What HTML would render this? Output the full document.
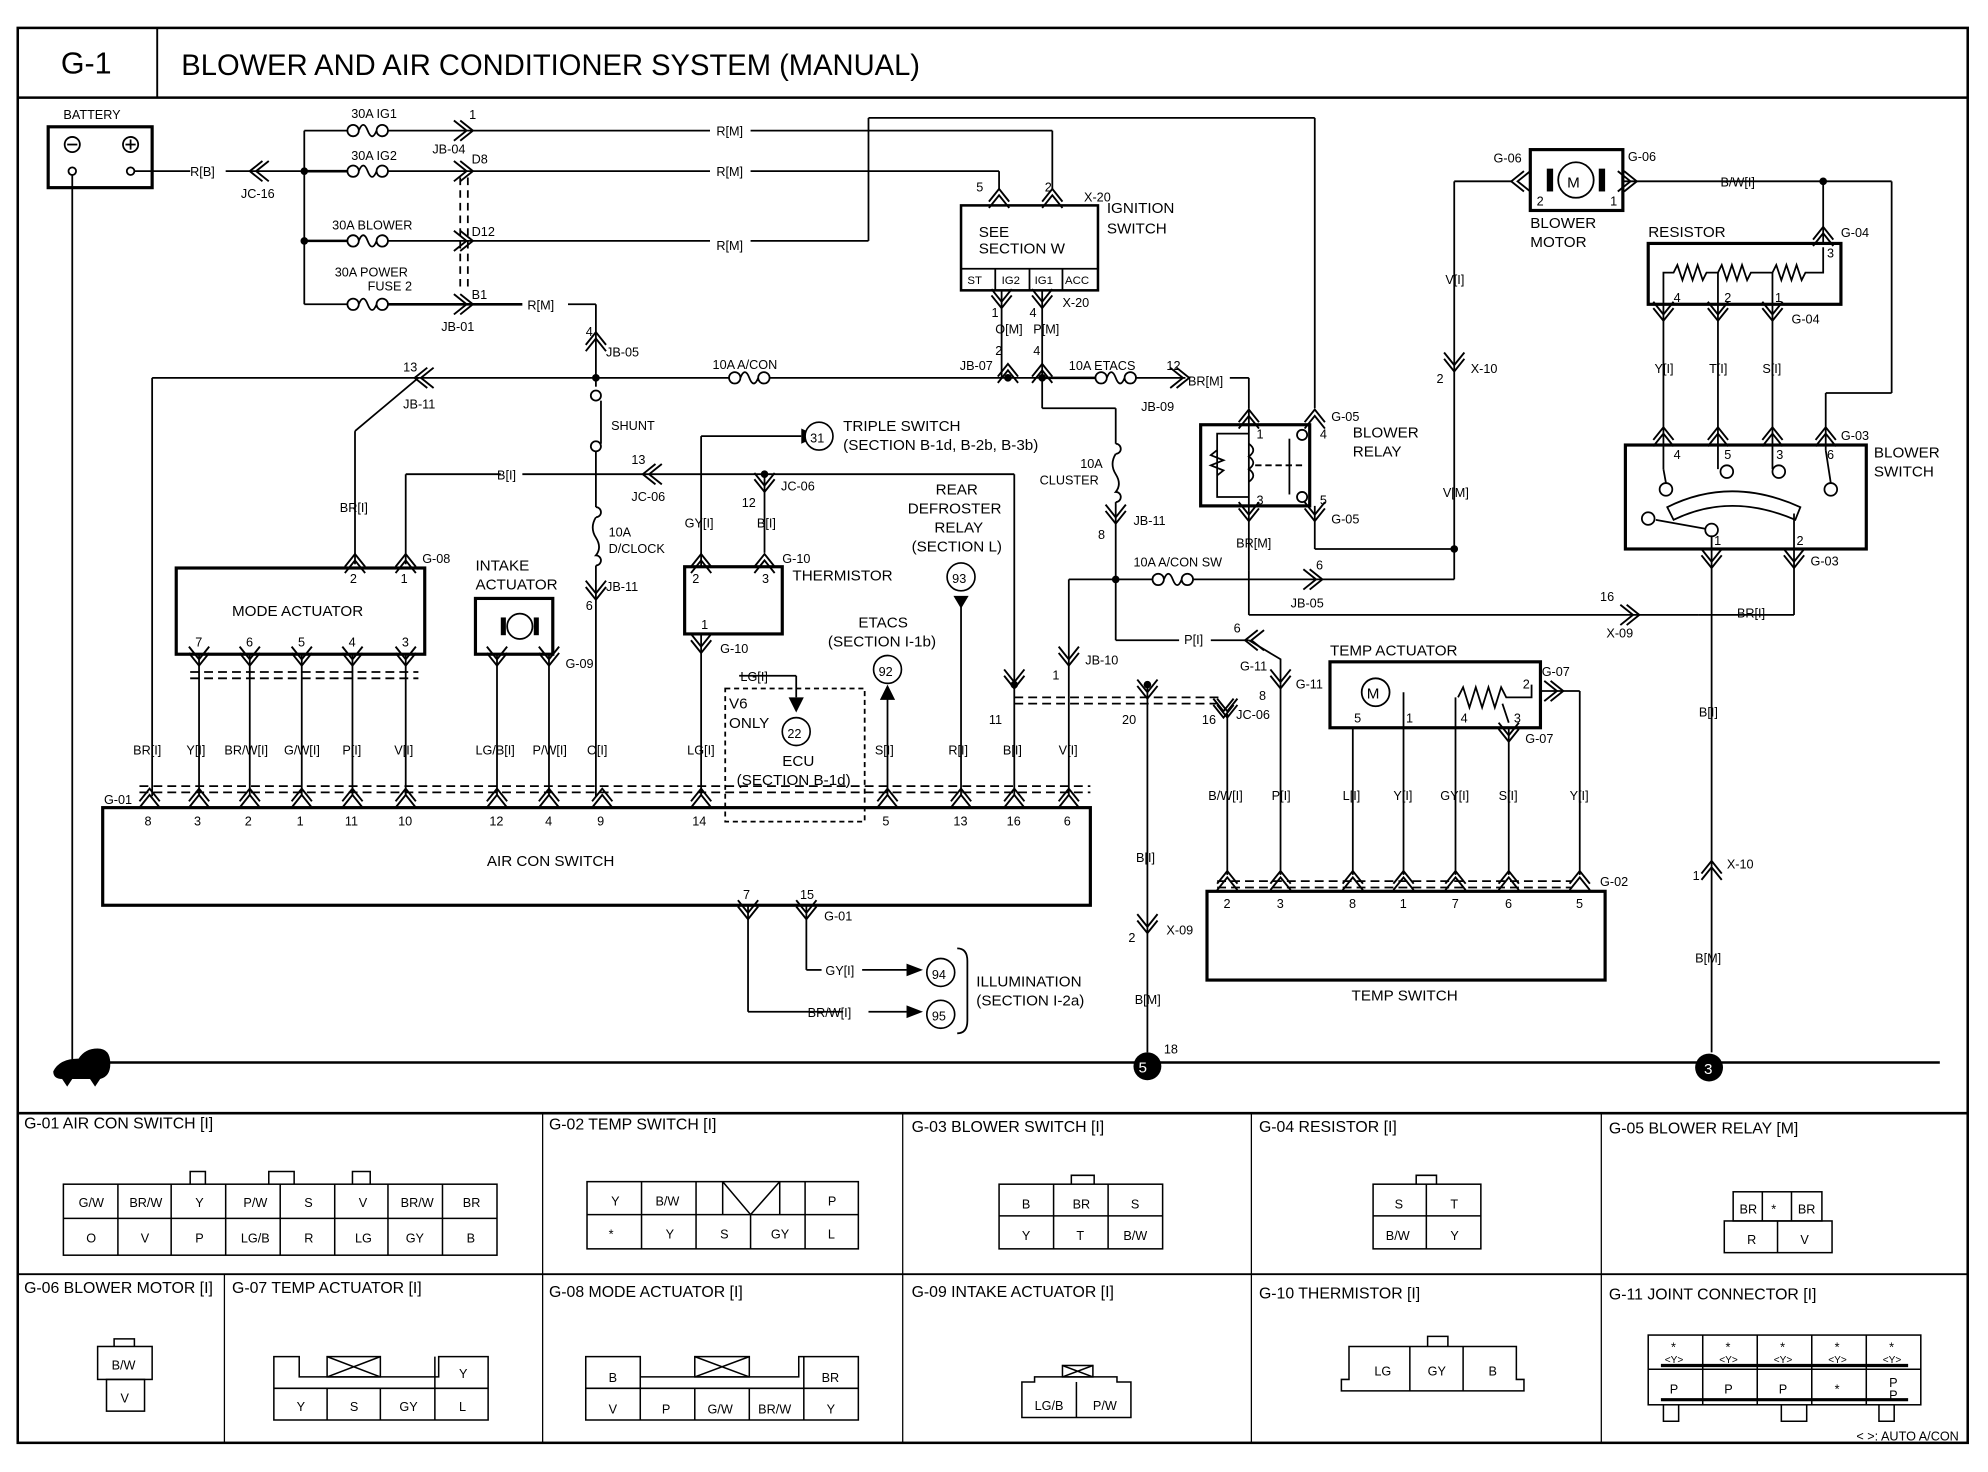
<!DOCTYPE html>
<html><head><meta charset="utf-8"><style>
html,body{margin:0;padding:0;background:#fff}
svg{display:block}
text{font-family:"Liberation Sans",sans-serif;fill:#000}
.s{font-size:10px}
.m{font-size:12px}
.l{font-size:13px}
.t{font-size:12.5px}
.c{font-size:10px}
.n{font-size:7px}
</style></head><body>
<svg width="1988" height="1472" viewBox="0 0 1568 1161" xmlns="http://www.w3.org/2000/svg">
<defs>
<path id="cu" d="M-8,7 L0,-3 L8,7 M-8,12 L0,2 L8,12" fill="none" stroke="#000" stroke-width="1.5"/>
<path id="cd" d="M-8,-7 L0,3 L8,-7 M-8,-12 L0,-2 L8,-12" fill="none" stroke="#000" stroke-width="1.5"/>
<path id="cl" d="M7,-8 L-3,0 L7,8 M12,-8 L2,0 L12,8" fill="none" stroke="#000" stroke-width="1.5"/>
<path id="cr" d="M-7,-8 L3,0 L-7,8 M-12,-8 L-2,0 L-12,8" fill="none" stroke="#000" stroke-width="1.5"/>
<path id="fh" d="M-16,0 a4.5,4.5 0 1 0 9,0 a4.5,4.5 0 1 0 -9,0 M-7,0 q3.5,-9 7,0 q3.5,9 7,0 M7,0 a4.5,4.5 0 1 0 9,0 a4.5,4.5 0 1 0 -9,0" fill="none" stroke="#000" stroke-width="1.4"/>
</defs>
<rect width="1568" height="1161" fill="#fff"/>
<g fill="none" stroke="#000">
<rect x="14" y="22" width="1538" height="1116" stroke-width="2"/>
<line x1="14" y1="77" x2="1552" y2="77" stroke-width="2"/>
<line x1="124" y1="22" x2="124" y2="77" stroke-width="1.5"/>
<line x1="14" y1="878" x2="1552" y2="878" stroke-width="2"/>
<line x1="14" y1="1005" x2="1552" y2="1005" stroke-width="1.5"/>
<line x1="428" y1="878" x2="428" y2="1138"/><line x1="712" y1="878" x2="712" y2="1138"/>
<line x1="987" y1="878" x2="987" y2="1138"/><line x1="1263" y1="878" x2="1263" y2="1138"/>
<line x1="177" y1="1005" x2="177" y2="1138"/>
</g>
<text x="48" y="58" style="font-size:24px">G-1</text>
<text x="143" y="59" style="font-size:23px">BLOWER AND AIR CONDITIONER SYSTEM (MANUAL)</text>

<g fill="none" stroke="#000" stroke-width="1.4">
<rect x="38" y="100" width="82" height="48" stroke-width="2.5"/>
<circle cx="57" cy="114" r="6"/><line x1="53" y1="114" x2="61" y2="114"/>
<circle cx="103" cy="114" r="6"/><line x1="99" y1="114" x2="107" y2="114"/><line x1="103" y1="110" x2="103" y2="118"/>
<circle cx="57" cy="135" r="3"/><circle cx="103" cy="135" r="3"/>
<line x1="57" y1="138" x2="57" y2="838"/>
<line x1="106" y1="135" x2="150" y2="135"/><line x1="178" y1="135" x2="240" y2="135"/>
<line x1="56" y1="838" x2="1530" y2="838" stroke-width="2"/>
<line x1="240" y1="103" x2="240" y2="240"/>
<line x1="240" y1="103" x2="274" y2="103"/><line x1="240" y1="135" x2="274" y2="135" stroke-width="2"/>
<line x1="240" y1="190" x2="274" y2="190" stroke-width="2"/><line x1="240" y1="240" x2="274" y2="240"/>
<line x1="306" y1="103" x2="560" y2="103"/><line x1="592" y1="103" x2="830" y2="103"/><line x1="830" y1="103" x2="830" y2="150"/>
<line x1="306" y1="135" x2="560" y2="135"/><line x1="592" y1="135" x2="788" y2="135"/><line x1="788" y1="135" x2="788" y2="150"/>
<line x1="306" y1="190" x2="560" y2="190"/><line x1="592" y1="190" x2="685" y2="190"/>
<line x1="685" y1="190" x2="685" y2="93"/><line x1="685" y1="93" x2="1037" y2="93"/><line x1="1037" y1="93" x2="1037" y2="322"/>
<line x1="306" y1="240" x2="412" y2="240" stroke-width="2"/><line x1="448" y1="240" x2="470" y2="240"/>
<line x1="470" y1="240" x2="470" y2="305"/>
<path d="M363,140 V228 M369,140 V228" stroke-dasharray="6,4"/>
<circle cx="470" cy="312" r="4"/><circle cx="470" cy="352" r="4"/><line x1="474" y1="316" x2="474" y2="350"/>
<line x1="470" y1="356" x2="470" y2="400"/>
<path d="M470,400 a4,4 0 1 1 0,8 M470,408 q-5,8 0,16 q5,8 0,14 a4,4 0 1 1 0,8"/>
<line x1="470" y1="446" x2="470" y2="628"/>
<line x1="120" y1="298" x2="575" y2="298"/><line x1="607" y1="298" x2="822" y2="298"/>
<line x1="120" y1="298" x2="120" y2="628"/>
<line x1="330" y1="298" x2="280" y2="340"/><line x1="280" y1="340" x2="280" y2="445"/>
<line x1="320" y1="445" x2="320" y2="374"/><line x1="320" y1="374" x2="395" y2="374"/><line x1="412" y1="374" x2="800" y2="374"/>
<line x1="800" y1="374" x2="800" y2="628"/>
<line x1="603" y1="374" x2="603" y2="436"/>
<rect x="758" y="162" width="108" height="67" stroke-width="2"/>
<line x1="758" y1="212" x2="866" y2="212"/>
<line x1="785" y1="212" x2="785" y2="229"/><line x1="812" y1="212" x2="812" y2="229"/><line x1="838" y1="212" x2="838" y2="229"/>
<line x1="790" y1="229" x2="790" y2="298"/><line x1="822" y1="229" x2="822" y2="322"/>
<line x1="822" y1="298" x2="864" y2="298" stroke-width="2"/><line x1="896" y1="298" x2="935" y2="298"/><line x1="970" y1="298" x2="985" y2="298"/><line x1="985" y1="298" x2="985" y2="322"/>
<line x1="822" y1="322" x2="880" y2="322"/><line x1="880" y1="322" x2="880" y2="350"/>
<path d="M880,350 a4,4 0 1 1 0,8 M880,358 q-5,8 0,16 q5,8 0,14 a4,4 0 1 1 0,8"/>
<line x1="880" y1="396" x2="880" y2="505"/><line x1="880" y1="505" x2="930" y2="505"/><line x1="955" y1="505" x2="985" y2="505"/>
<line x1="1010" y1="540" x2="1010" y2="690"/><path d="M985,505 L1010,520 V540"/>
<rect x="947" y="335" width="86" height="64" stroke-width="2.5"/>
<line x1="985" y1="322" x2="985" y2="450"/><line x1="985" y1="485" x2="1340" y2="485"/><line x1="985" y1="450" x2="985" y2="485"/>
<path d="M985,342 H960 V392 H985 M960,355 l-5,4 l10,4 l-10,4 l10,4 l-5,4 M985,350 q7,5 0,10 q7,5 0,10 q7,5 0,10"/>
<line x1="990" y1="367" x2="1028" y2="367" stroke-dasharray="5,3"/>
<circle cx="1027" cy="343" r="4"/><circle cx="1027" cy="392" r="4"/><line x1="1017" y1="346" x2="1017" y2="390"/>
<line x1="1037" y1="399" x2="1037" y2="433"/><line x1="1037" y1="433" x2="1147" y2="433"/>
<line x1="843" y1="628" x2="843" y2="457"/><line x1="843" y1="457" x2="909" y2="457"/><line x1="941" y1="457" x2="1147" y2="457"/><line x1="1147" y1="457" x2="1147" y2="143"/>
<line x1="1147" y1="143" x2="1192" y2="143"/><line x1="1280" y1="143" x2="1438" y2="143"/><line x1="1438" y1="143" x2="1492" y2="143"/>
<line x1="1492" y1="143" x2="1492" y2="310"/><line x1="1492" y1="310" x2="1440" y2="310"/><line x1="1440" y1="310" x2="1440" y2="355"/>
<line x1="1438" y1="143" x2="1438" y2="192"/>
<rect x="1207" y="118" width="73" height="48" stroke-width="2.5"/>
<circle cx="1243" cy="142" r="14"/>
<rect x="1300" y="192" width="152" height="48" stroke-width="2.5"/>
<path d="M1312,240 V215 H1320 l3,-6 l4,12 l4,-12 l4,12 l4,-12 l4,12 l3,-6 H1355 l3,-6 l4,12 l4,-12 l4,12 l4,-12 l4,12 l3,-6 H1398 l3,-6 l4,12 l4,-12 l4,12 l4,-12 l4,12 l3,-6 H1438 V195"/>
<line x1="1312" y1="240" x2="1312" y2="370"/><line x1="1355" y1="215" x2="1355" y2="370"/><line x1="1398" y1="215" x2="1398" y2="370"/>
<rect x="1282" y="351" width="190" height="82" stroke-width="2.5"/>
<circle cx="1314" cy="386" r="5"/><circle cx="1362" cy="372" r="5"/><circle cx="1403" cy="372" r="5"/><circle cx="1444" cy="386" r="5"/>
<line x1="1312" y1="370" x2="1314" y2="381"/><line x1="1440" y1="355" x2="1444" y2="381"/>
<path d="M1315,400 Q1365,375 1420,400 L1416,410 Q1365,388 1320,410 Z"/>
<circle cx="1300" cy="409" r="5"/><circle cx="1350" cy="418" r="5"/><line x1="1306" y1="410" x2="1345" y2="417"/>
<line x1="1350" y1="423" x2="1350" y2="830"/><line x1="1415" y1="405" x2="1415" y2="485"/><line x1="1340" y1="485" x2="1415" y2="485"/>
<rect x="139" y="448" width="196" height="68" stroke-width="2.5"/>
<line x1="157" y1="516" x2="157" y2="628"/><line x1="197" y1="516" x2="197" y2="628"/><line x1="238" y1="516" x2="238" y2="628"/><line x1="278" y1="516" x2="278" y2="628"/><line x1="320" y1="516" x2="320" y2="628"/>
<path d="M150,530 H330 M150,535 H330" stroke-dasharray="7,4"/>
<rect x="375" y="472" width="61" height="44" stroke-width="2.5"/>
<circle cx="410" cy="494" r="10"/>
<line x1="392" y1="516" x2="392" y2="628"/><line x1="433" y1="516" x2="433" y2="628"/>
<rect x="540" y="447" width="77" height="53" stroke-width="2.5"/>
<line x1="553" y1="447" x2="553" y2="344"/><line x1="553" y1="344" x2="632" y2="344"/>
<line x1="553" y1="500" x2="553" y2="628"/>
<line x1="583" y1="533" x2="628" y2="533"/><line x1="628" y1="533" x2="628" y2="550"/>
<rect x="572" y="543" width="110" height="105" stroke-dasharray="4,3"/>
<line x1="700" y1="545" x2="700" y2="628"/>
<line x1="758" y1="475" x2="758" y2="628"/>
<path d="M110,620 H860 M110,625 H860" stroke-dasharray="7,4"/>
<path d="M800,550 H965 M800,555 H965" stroke-dasharray="7,4"/>
<line x1="905" y1="540" x2="905" y2="830"/>
<line x1="968" y1="563" x2="968" y2="690"/>
<rect x="81" y="637" width="779" height="77" stroke-width="2.5"/>
<line x1="590" y1="714" x2="590" y2="798"/><line x1="590" y1="798" x2="665" y2="798"/><line x1="685" y1="798" x2="715" y2="798"/>
<line x1="636" y1="714" x2="636" y2="765"/><line x1="636" y1="765" x2="648" y2="765"/><line x1="680" y1="765" x2="715" y2="765"/>
<path d="M755,748 q8,0 8,10 V805 q0,10 -8,10"/>
<rect x="1049" y="522" width="166" height="52" stroke-width="2.5"/>
<circle cx="1085" cy="546" r="11"/>
<path d="M1150,550 l4,-8 l5,16 l5,-16 l5,16 l5,-16 l5,16 l5,-16 l4,8 H1208 V540"/>
<line x1="1190" y1="570" x2="1185" y2="555"/>
<line x1="1067" y1="574" x2="1067" y2="690"/><line x1="1107" y1="546" x2="1107" y2="690"/><line x1="1148" y1="550" x2="1148" y2="690"/><line x1="1190" y1="574" x2="1190" y2="690"/>
<line x1="1215" y1="545" x2="1246" y2="545"/><line x1="1246" y1="545" x2="1246" y2="690"/>
<rect x="952" y="703" width="314" height="70" stroke-width="2.5"/>
<path d="M960,695 H1240 M960,700 H1240" stroke-dasharray="7,4"/>
</g>
<g fill="#000">
<circle cx="240" cy="135" r="3"/><circle cx="240" cy="190" r="3"/><circle cx="470" cy="298" r="3"/><circle cx="603" cy="374" r="3"/>
<circle cx="795" cy="298" r="3"/><circle cx="822" cy="298" r="3"/><circle cx="1147" cy="433" r="3"/><circle cx="1438" cy="143" r="3"/>
<circle cx="880" cy="457" r="3"/><circle cx="905" cy="540" r="3"/><circle cx="800" cy="540" r="3"/>
<circle cx="905" cy="841" r="11"/><circle cx="1348" cy="842" r="11"/>
<path d="M42,845 q5,-10 20,-10 q5,-8 15,-8 q10,0 10,12 q0,10 -8,12 l-4,6 l-4,-6 h-14 l-4,6 l-4,-6 q-7,0 -7,-6z"/>
<path d="M632,338 L645,344 L632,350Z"/><path d="M715,760 L728,765 L715,770Z"/><path d="M715,793 L728,798 L715,803Z"/>
<path d="M622,550 L628,562 L634,550Z"/><path d="M694,552 L700,540 L706,552Z"/><path d="M752,470 L758,480 L764,470Z"/>
<rect x="1220" y="133" width="5" height="18"/><rect x="1261" y="133" width="5" height="18"/>
<rect x="395" y="487" width="4" height="14"/><rect x="421" y="487" width="4" height="14"/>
</g>
<g fill="#fff" stroke="#000" stroke-width="1.3">
<circle cx="646" cy="344" r="11"/><circle cx="742" cy="767" r="11"/><circle cx="742" cy="800" r="11"/>
<circle cx="628" cy="577" r="11"/><circle cx="700" cy="528" r="11"/><circle cx="758" cy="455" r="11"/>
</g>
<g><use href="#fh" x="290" y="103"/><use href="#fh" x="290" y="135"/><use href="#fh" x="290" y="190"/><use href="#fh" x="290" y="240"/>
<use href="#fh" x="591" y="298"/><use href="#fh" x="880" y="298"/><use href="#fh" x="925" y="457"/></g>
<g>
<use href="#cl" x="200" y="135"/>
<use href="#cr" x="370" y="103"/><use href="#cr" x="370" y="135"/><use href="#cr" x="370" y="190"/><use href="#cr" x="370" y="240"/>
<use href="#cu" x="470" y="265"/><use href="#cl" x="330" y="298"/><use href="#cl" x="510" y="374"/>
<use href="#cd" x="470" y="470"/><use href="#cd" x="603" y="385"/>
<use href="#cu" x="280" y="440"/><use href="#cu" x="320" y="440"/>
<use href="#cu" x="553" y="440"/><use href="#cu" x="603" y="440"/><use href="#cd" x="553" y="512"/>
<use href="#cu" x="788" y="152"/><use href="#cu" x="830" y="152"/><use href="#cd" x="790" y="240"/><use href="#cd" x="822" y="240"/>
<use href="#cu" x="795" y="290"/><use href="#cu" x="822" y="290"/><use href="#cr" x="935" y="298"/>
<use href="#cu" x="985" y="326"/><use href="#cu" x="1037" y="326"/><use href="#cd" x="985" y="408"/><use href="#cd" x="1037" y="408"/>
<use href="#cd" x="880" y="410"/><use href="#cr" x="1040" y="457"/><use href="#cl" x="985" y="505"/><use href="#cd" x="1010" y="540"/>
<use href="#cd" x="843" y="522"/><use href="#cd" x="965" y="563"/>
<use href="#cd" x="1147" y="290"/><use href="#cl" x="1195" y="143"/><use href="#cr" x="1288" y="143"/><use href="#cu" x="1438" y="182"/>
<use href="#cd" x="1312" y="250"/><use href="#cd" x="1355" y="250"/><use href="#cd" x="1398" y="250"/>
<use href="#cu" x="1312" y="340"/><use href="#cu" x="1355" y="340"/><use href="#cu" x="1398" y="340"/><use href="#cu" x="1440" y="340"/>
<use href="#cd" x="1350" y="445"/><use href="#cd" x="1415" y="445"/><use href="#cr" x="1290" y="485"/>
<use href="#cd" x="1190" y="582"/><use href="#cr" x="1230" y="545"/>
<use href="#cd" x="392" y="522"/><use href="#cd" x="433" y="522"/>
<use href="#cd" x="157" y="522"/><use href="#cd" x="197" y="522"/><use href="#cd" x="238" y="522"/><use href="#cd" x="278" y="522"/><use href="#cd" x="320" y="522"/>
<use href="#cu" x="118" y="625"/><use href="#cu" x="157" y="625"/><use href="#cu" x="197" y="625"/><use href="#cu" x="238" y="625"/><use href="#cu" x="278" y="625"/><use href="#cu" x="320" y="625"/><use href="#cu" x="392" y="625"/><use href="#cu" x="433" y="625"/><use href="#cu" x="475" y="625"/><use href="#cu" x="553" y="625"/><use href="#cu" x="700" y="625"/><use href="#cu" x="758" y="625"/><use href="#cu" x="800" y="625"/><use href="#cu" x="843" y="625"/>
<use href="#cd" x="800" y="540"/><use href="#cd" x="905" y="548"/><use href="#cd" x="968" y="563"/>
<use href="#cd" x="590" y="722"/><use href="#cd" x="636" y="722"/>
<use href="#cd" x="905" y="733"/><use href="#cu" x="1350" y="682"/>
<use href="#cu" x="968" y="690"/><use href="#cu" x="1010" y="690"/><use href="#cu" x="1067" y="690"/><use href="#cu" x="1107" y="690"/><use href="#cu" x="1148" y="690"/><use href="#cu" x="1190" y="690"/><use href="#cu" x="1246" y="690"/>
</g>
<g class="s">
<text x="50" y="94">BATTERY</text><text x="150" y="139">R[B]</text><text x="190" y="156">JC-16</text>
<text x="277" y="93">30A IG1</text><text x="277" y="126">30A IG2</text><text x="262" y="181">30A BLOWER</text><text x="264" y="218">30A POWER</text><text x="290" y="229">FUSE 2</text>
<text x="370" y="94">1</text><text x="341" y="121">JB-04</text><text x="372" y="129">D8</text><text x="372" y="186">D12</text><text x="372" y="236">B1</text><text x="348" y="261">JB-01</text>
<text x="565" y="107">R[M]</text><text x="565" y="139">R[M]</text><text x="565" y="197">R[M]</text><text x="416" y="244">R[M]</text>
<text x="462" y="265">4</text><text x="478" y="281">JB-05</text><text x="482" y="339">SHUNT</text><text x="480" y="423">10A</text><text x="480" y="436">D/CLOCK</text><text x="478" y="466">JB-11</text><text x="462" y="481">6</text>
<text x="318" y="293">13</text><text x="318" y="322">JB-11</text><text x="562" y="291">10A A/CON</text>
<text x="392" y="378">B[I]</text><text x="498" y="366">13</text><text x="498" y="395">JC-06</text><text x="268" y="404">BR[I]</text>
<text x="772" y="187" class="m">SEE</text><text x="772" y="200" class="m">SECTION W</text>
<text x="763" y="224" style="font-size:9px">ST</text><text x="790" y="224" style="font-size:9px">IG2</text><text x="816" y="224" style="font-size:9px">IG1</text><text x="840" y="224" style="font-size:9px">ACC</text>
<text x="855" y="159">X-20</text><text x="770" y="151">5</text><text x="824" y="151">2</text><text x="873" y="168" class="m">IGNITION</text><text x="873" y="184" class="m">SWITCH</text>
<text x="782" y="250">1</text><text x="812" y="250">4</text><text x="838" y="242">X-20</text><text x="785" y="263">O[M]</text><text x="815" y="263">P[M]</text>
<text x="757" y="292">JB-07</text><text x="785" y="280">2</text><text x="815" y="280">4</text><text x="843" y="292">10A ETACS</text><text x="920" y="292">12</text><text x="900" y="324">JB-09</text><text x="937" y="304">BR[M]</text>
<text x="852" y="369">10A</text><text x="820" y="382">CLUSTER</text><text x="866" y="425">8</text><text x="894" y="414">JB-11</text>
<text x="665" y="340" class="m">TRIPLE SWITCH</text><text x="665" y="355" class="m">(SECTION B-1d, B-2b, B-3b)</text><text x="639" y="349" class="c">31</text>
<text x="616" y="387">JC-06</text><text x="585" y="400">12</text><text x="597" y="416">B[I]</text><text x="540" y="416">GY[I]</text>
<text x="617" y="444">G-10</text><text x="625" y="458" class="m">THERMISTOR</text><text x="546" y="460">2</text><text x="601" y="460">3</text><text x="553" y="496">1</text><text x="568" y="515">G-10</text><text x="584" y="537">LG[I]</text>
<text x="738" y="390" class="m">REAR</text><text x="716" y="405" class="m">DEFROSTER</text><text x="737" y="420" class="m">RELAY</text><text x="719" y="435" class="m">(SECTION L)</text><text x="751" y="460" class="c">93</text>
<text x="677" y="495" class="m">ETACS</text><text x="653" y="510" class="m">(SECTION I-1b)</text><text x="693" y="533" class="c">92</text>
<text x="575" y="559" class="m">V6</text><text x="575" y="574" class="m">ONLY</text><text x="621" y="582" class="c">22</text><text x="617" y="604" class="m">ECU</text><text x="581" y="619" class="m">(SECTION B-1d)</text>
<text x="375" y="450" class="m">INTAKE</text><text x="375" y="465" class="m">ACTUATOR</text><text x="446" y="527">G-09</text>
<text x="183" y="486" class="m">MODE ACTUATOR</text><text x="276" y="460">2</text><text x="316" y="460">1</text><text x="333" y="444">G-08</text>
<text x="154" y="510">7</text><text x="194" y="510">6</text><text x="235" y="510">5</text><text x="275" y="510">4</text><text x="317" y="510">3</text>
<text x="105" y="595">BR[I]</text><text x="147" y="595">Y[I]</text><text x="177" y="595">BR/W[I]</text><text x="224" y="595">G/W[I]</text><text x="270" y="595">P[I]</text><text x="311" y="595">V[I]</text>
<text x="375" y="595">LG/B[I]</text><text x="420" y="595">P/W[I]</text><text x="463" y="595">O[I]</text><text x="542" y="595">LG[I]</text><text x="690" y="595">S[I]</text><text x="748" y="595">R[I]</text><text x="791" y="595">B[I]</text><text x="835" y="595">V[I]</text>
<text x="82" y="634">G-01</text>
<text x="114" y="651">8</text><text x="153" y="651">3</text><text x="193" y="651">2</text><text x="234" y="651">1</text><text x="272" y="651">11</text><text x="314" y="651">10</text><text x="386" y="651">12</text><text x="430" y="651">4</text><text x="471" y="651">9</text><text x="546" y="651">14</text><text x="696" y="651">5</text><text x="752" y="651">13</text><text x="794" y="651">16</text><text x="839" y="651">6</text>
<text x="384" y="683" class="m">AIR CON SWITCH</text>
<text x="586" y="709">7</text><text x="631" y="709">15</text><text x="650" y="726">G-01</text>
<text x="651" y="769">GY[I]</text><text x="637" y="802">BR/W[I]</text><text x="735" y="772" class="c">94</text><text x="735" y="805" class="c">95</text>
<text x="770" y="778" class="m">ILLUMINATION</text><text x="770" y="793" class="m">(SECTION I-2a)</text>
<text x="856" y="524">JB-10</text><text x="830" y="536">1</text><text x="780" y="571">11</text><text x="885" y="571">20</text><text x="948" y="571">16</text><text x="975" y="567">JC-06</text>
<text x="896" y="680">B[I]</text><text x="890" y="743">2</text><text x="920" y="737">X-09</text><text x="895" y="792">B[M]</text><text x="918" y="831">18</text>
<text x="898" y="846" style="fill:#fff;font-size:12px">5</text><text x="1344" y="847" style="fill:#fff;font-size:12px">3</text>
<text x="894" y="447">10A A/CON SW</text><text x="1038" y="449">6</text><text x="1018" y="479">JB-05</text><text x="1138" y="392">V[M]</text><text x="1140" y="224">V[I]</text>
<text x="1133" y="302">2</text><text x="1160" y="294">X-10</text><text x="1262" y="474">16</text><text x="1267" y="503">X-09</text><text x="1370" y="487">BR[I]</text>
<text x="934" y="508">P[I]</text><text x="973" y="499">6</text><text x="978" y="529">G-11</text><text x="993" y="552">8</text><text x="1022" y="543">G-11</text>
<text x="975" y="432">BR[M]</text><text x="1050" y="332">G-05</text><text x="1050" y="413">G-05</text><text x="991" y="346">1</text><text x="1041" y="346">4</text><text x="991" y="398">3</text><text x="1041" y="398">5</text>
<text x="1067" y="345" class="m">BLOWER</text><text x="1067" y="360" class="m">RELAY</text>
<text x="1049" y="517" class="m">TEMP ACTUATOR</text><text x="1216" y="533">G-07</text><text x="1201" y="543">2</text><text x="1068" y="570">5</text><text x="1109" y="570">1</text><text x="1152" y="570">4</text><text x="1194" y="570">3</text><text x="1203" y="586">G-07</text>
<text x="1078" y="551" class="m">M</text>
<text x="953" y="631">B/W[I]</text><text x="1003" y="631">P[I]</text><text x="1059" y="631">L[I]</text><text x="1099" y="631">Y[I]</text><text x="1136" y="631">GY[I]</text><text x="1182" y="631">S[I]</text><text x="1238" y="631">Y[I]</text>
<text x="1262" y="699">G-02</text>
<text x="965" y="716">2</text><text x="1007" y="716">3</text><text x="1064" y="716">8</text><text x="1104" y="716">1</text><text x="1145" y="716">7</text><text x="1187" y="716">6</text><text x="1243" y="716">5</text>
<text x="1066" y="789" class="m">TEMP SWITCH</text>
<text x="1178" y="128">G-06</text><text x="1284" y="127">G-06</text><text x="1212" y="162">2</text><text x="1270" y="162">1</text><text x="1236" y="148" class="m">M</text>
<text x="1207" y="180" class="m">BLOWER</text><text x="1207" y="195" class="m">MOTOR</text><text x="1357" y="147">B/W[I]</text>
<text x="1300" y="187" class="m">RESISTOR</text><text x="1452" y="187">G-04</text><text x="1441" y="203">3</text><text x="1320" y="238">4</text><text x="1360" y="238">2</text><text x="1400" y="238">1</text><text x="1413" y="255">G-04</text>
<text x="1305" y="294">Y[I]</text><text x="1348" y="294">T[I]</text><text x="1390" y="294">S[I]</text><text x="1452" y="347">G-03</text>
<text x="1320" y="362">4</text><text x="1360" y="362">5</text><text x="1401" y="362">3</text><text x="1441" y="362">6</text><text x="1352" y="430">1</text><text x="1417" y="430">2</text><text x="1428" y="446">G-03</text>
<text x="1478" y="361" class="m">BLOWER</text><text x="1478" y="376" class="m">SWITCH</text>
<text x="1340" y="565">B[I]</text><text x="1335" y="694">1</text><text x="1362" y="685">X-10</text><text x="1337" y="759">B[M]</text>
</g>
<g class="t">
<text x="19" y="890">G-01 AIR CON SWITCH [I]</text><text x="433" y="891">G-02 TEMP SWITCH [I]</text><text x="719" y="893">G-03 BLOWER SWITCH [I]</text><text x="993" y="893">G-04 RESISTOR [I]</text><text x="1269" y="894">G-05 BLOWER RELAY [M]</text>
<text x="19" y="1020">G-06 BLOWER MOTOR [I]</text><text x="183" y="1020">G-07 TEMP ACTUATOR [I]</text><text x="433" y="1023">G-08 MODE ACTUATOR [I]</text><text x="719" y="1023">G-09 INTAKE ACTUATOR [I]</text><text x="993" y="1024">G-10 THERMISTOR [I]</text><text x="1269" y="1025">G-11 JOINT CONNECTOR [I]</text>
</g>
<g fill="none" stroke="#000" stroke-width="1.2">
<rect x="50" y="934" width="342" height="56"/><line x1="50" y1="961" x2="392" y2="961"/>
<path d="M93,934V990M135,934V990M178,934V990M221,934V990M264,934V990M306,934V990M349,934V990"/>
<path d="M150,934v-10h12v10M212,934v-10h20v10M278,934v-10h14v10"/>
<rect x="463" y="932" width="214" height="53"/><line x1="463" y1="958" x2="677" y2="958"/>
<path d="M506,932V985M549,932V958M549,958V985M592,958V985M635,932V985M570,932V958M615,932V958M570,932L592,958L615,932"/>
<rect x="788" y="934" width="129" height="51"/><line x1="788" y1="959" x2="917" y2="959"/><path d="M831,934V985M874,934V985M845,934v-7h18v7"/>
<rect x="1083" y="934" width="85" height="51"/><line x1="1083" y1="959" x2="1168" y2="959"/><path d="M1125,934V985M1117,934v-7h16v7"/>
<rect x="1367" y="940" width="70" height="23"/><path d="M1390,940V963M1413,940V963"/><rect x="1360" y="963" width="85" height="25"/><line x1="1402" y1="963" x2="1402" y2="988"/>
<rect x="77" y="1062" width="43" height="26"/><rect x="84" y="1088" width="30" height="25"/><path d="M90,1062v-6h16v6"/>
<path d="M216,1095V1070h20v16h110v-16h39v50H216Z"/><path d="M216,1095H385M258,1095V1120M300,1095V1120M343,1095V1120M343,1070V1095"/><rect x="258" y="1070" width="42" height="16"/><path d="M258,1070L300,1086M300,1070L258,1086"/>
<path d="M462,1070h43v16h125v-16h47v50H462Z"/><path d="M462,1095H677M505,1070V1120M548,1095V1120M591,1095V1120M634,1070V1120"/><rect x="548" y="1070" width="43" height="16"/><path d="M548,1070L591,1086M591,1070L548,1086"/>
<path d="M806,1118V1090h10v-4h65v4h11v28Z"/><line x1="849" y1="1090" x2="849" y2="1118"/><rect x="838" y="1077" width="24" height="9"/><path d="M838,1077L862,1086M862,1077L838,1086"/>
<path d="M1058,1097v-9h6v-26h132v26h6v9Z"/><path d="M1112,1062V1097M1154,1062V1097M1126,1062v-8h16v8"/>
<rect x="1300" y="1053" width="215" height="55"/><line x1="1300" y1="1080" x2="1515" y2="1080"/><path d="M1343,1053V1108M1386,1053V1108M1429,1053V1108M1472,1053V1108"/>
<path d="M1312,1108v13h12v-13M1405,1108v13h20v-13M1482,1108v13h12v-13"/>
<line x1="1310" y1="1077" x2="1505" y2="1077" stroke-width="2.5"/><line x1="1310" y1="1104" x2="1505" y2="1104" stroke-width="2.5"/>
</g>
<g class="s" style="font-size:10px">
<text x="62" y="952">G/W</text><text x="102" y="952">BR/W</text><text x="154" y="952">Y</text><text x="192" y="952">P/W</text><text x="240" y="952">S</text><text x="283" y="952">V</text><text x="316" y="952">BR/W</text><text x="365" y="952">BR</text>
<text x="68" y="980">O</text><text x="111" y="980">V</text><text x="154" y="980">P</text><text x="190" y="980">LG/B</text><text x="240" y="980">R</text><text x="280" y="980">LG</text><text x="320" y="980">GY</text><text x="368" y="980">B</text>
<text x="482" y="951">Y</text><text x="517" y="951">B/W</text><text x="653" y="951">P</text><text x="480" y="977">*</text><text x="525" y="977">Y</text><text x="568" y="977">S</text><text x="608" y="977">GY</text><text x="653" y="977">L</text>
<text x="806" y="953">B</text><text x="846" y="953">BR</text><text x="892" y="953">S</text><text x="806" y="978">Y</text><text x="849" y="978">T</text><text x="886" y="978">B/W</text>
<text x="1100" y="953">S</text><text x="1144" y="953">T</text><text x="1093" y="978">B/W</text><text x="1144" y="978">Y</text>
<text x="1372" y="957">BR</text><text x="1397" y="957">*</text><text x="1418" y="957">BR</text><text x="1378" y="981">R</text><text x="1420" y="981">V</text>
<text x="88" y="1080">B/W</text><text x="95" y="1106">V</text>
<text x="362" y="1087">Y</text><text x="234" y="1113">Y</text><text x="276" y="1113">S</text><text x="315" y="1113">GY</text><text x="362" y="1113">L</text>
<text x="480" y="1090">B</text><text x="648" y="1090">BR</text><text x="480" y="1115">V</text><text x="522" y="1115">P</text><text x="558" y="1115">G/W</text><text x="598" y="1115">BR/W</text><text x="652" y="1115">Y</text>
<text x="816" y="1112">LG/B</text><text x="862" y="1112">P/W</text>
<text x="1084" y="1085">LG</text><text x="1126" y="1085">GY</text><text x="1174" y="1085">B</text>
<text x="1318" y="1066">*</text><text x="1361" y="1066">*</text><text x="1404" y="1066">*</text><text x="1447" y="1066">*</text><text x="1490" y="1066">*</text>
<text x="1313" y="1075" style="font-size:8px">&lt;Y&gt;</text><text x="1356" y="1075" style="font-size:8px">&lt;Y&gt;</text><text x="1399" y="1075" style="font-size:8px">&lt;Y&gt;</text><text x="1442" y="1075" style="font-size:8px">&lt;Y&gt;</text><text x="1485" y="1075" style="font-size:8px">&lt;Y&gt;</text>
<text x="1317" y="1099">P</text><text x="1360" y="1099">P</text><text x="1403" y="1099">P</text><text x="1447" y="1099">*</text><text x="1490" y="1094">P</text><text x="1490" y="1104">P</text>
<text x="1545" y="1136" text-anchor="end">&lt;  &gt;: AUTO A/CON</text>
</g>
</svg>
</body></html>
